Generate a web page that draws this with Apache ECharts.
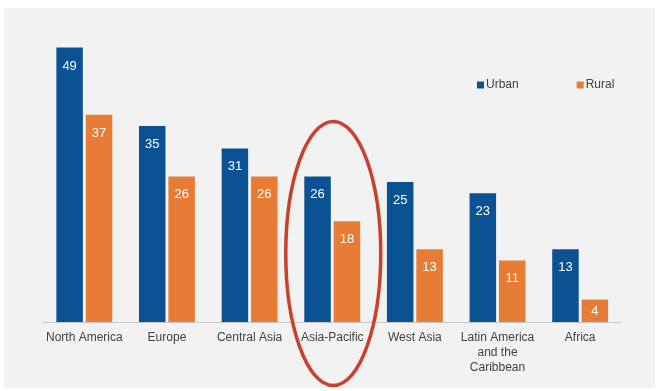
<!DOCTYPE html>
<html>
<head>
<meta charset="utf-8">
<script src="https://cdn.jsdelivr.net/npm/echarts@6/dist/echarts.min.js"></script>
<style>
html,body{margin:0;padding:0;background:#ffffff;}
#chart{width:659px;height:391px;}
</style>
</head>
<body>
<div id="chart"></div>
<script>
const categories = ['North America', 'Europe', 'Central Asia', 'Asia-Pacific', 'West Asia', 'Latin America\nand the\nCaribbean', 'Africa'];
const urban = [49, 35, 31, 26, 25, 23, 13];
const rural = [37, 26, 26, 18, 13, 11, 4];
const seriesNames = ['Urban', 'Rural'];
const highlighted = 'Asia-Pacific';

const chart = echarts.init(document.getElementById('chart'), null, {renderer: 'canvas'});
const font = 'Liberation Sans, Arial, sans-serif';
const labelCfg = {
  show: true, position: 'insideTop', distance: 12,
  color: '#ffffff', fontSize: 13, fontFamily: font
};
// short bars get their label closer to the top
const toItems = arr => arr.map(v => v < 6 ? {value: v, label: {distance: 5}} : v);
const bgRect = {type: 'rect', z: -10, silent: true, shape: {x: 4, y: 8, width: 651, height: 380}, style: {fill: '#f2f2f2'}};
const option = {
  animation: false,
  backgroundColor: '#ffffff',
  grid: {left: 43, right: 37.5, top: 14, bottom: 69},
  legend: {
    data: seriesNames,
    left: 472, top: 74,
    itemWidth: 7, itemHeight: 7, itemGap: 58,
    icon: 'rect',
    textStyle: {color: '#404040', fontSize: 12, fontFamily: font, padding: [0, 0, 0, -3]}
  },
  xAxis: {
    type: 'category',
    data: categories,
    axisLine: {lineStyle: {color: '#c8c8c8', width: 1}},
    axisTick: {show: false},
    axisLabel: {color: '#404040', fontSize: 12, fontFamily: font, margin: 8, lineHeight: 15, interval: 0}
  },
  yAxis: {
    type: 'value', min: 0, max: 55,
    show: false, splitLine: {show: false}
  },
  series: [
    {
      name: seriesNames[0], type: 'bar', data: toItems(urban),
      barWidth: 26.5, barGap: '11%',
      itemStyle: {color: '#0a5291'},
      label: labelCfg
    },
    {
      name: seriesNames[1], type: 'bar', data: toItems(rural),
      barWidth: 26.5, barGap: '11%',
      itemStyle: {color: '#e67c35'},
      label: labelCfg
    }
  ],
  graphic: [bgRect]
};
chart.setOption(option);
const cx = chart.convertToPixel({xAxisIndex: 0}, categories.indexOf(highlighted));
chart.setOption({
  graphic: [
    bgRect,
    {type: 'ellipse', z: 100, silent: true, shape: {cx: cx + 1, cy: 253.5, rx: 47.5, ry: 132}, style: {fill: 'none', stroke: '#c8412c', lineWidth: 3.5}}
  ]
});
</script>
</body>
</html>
